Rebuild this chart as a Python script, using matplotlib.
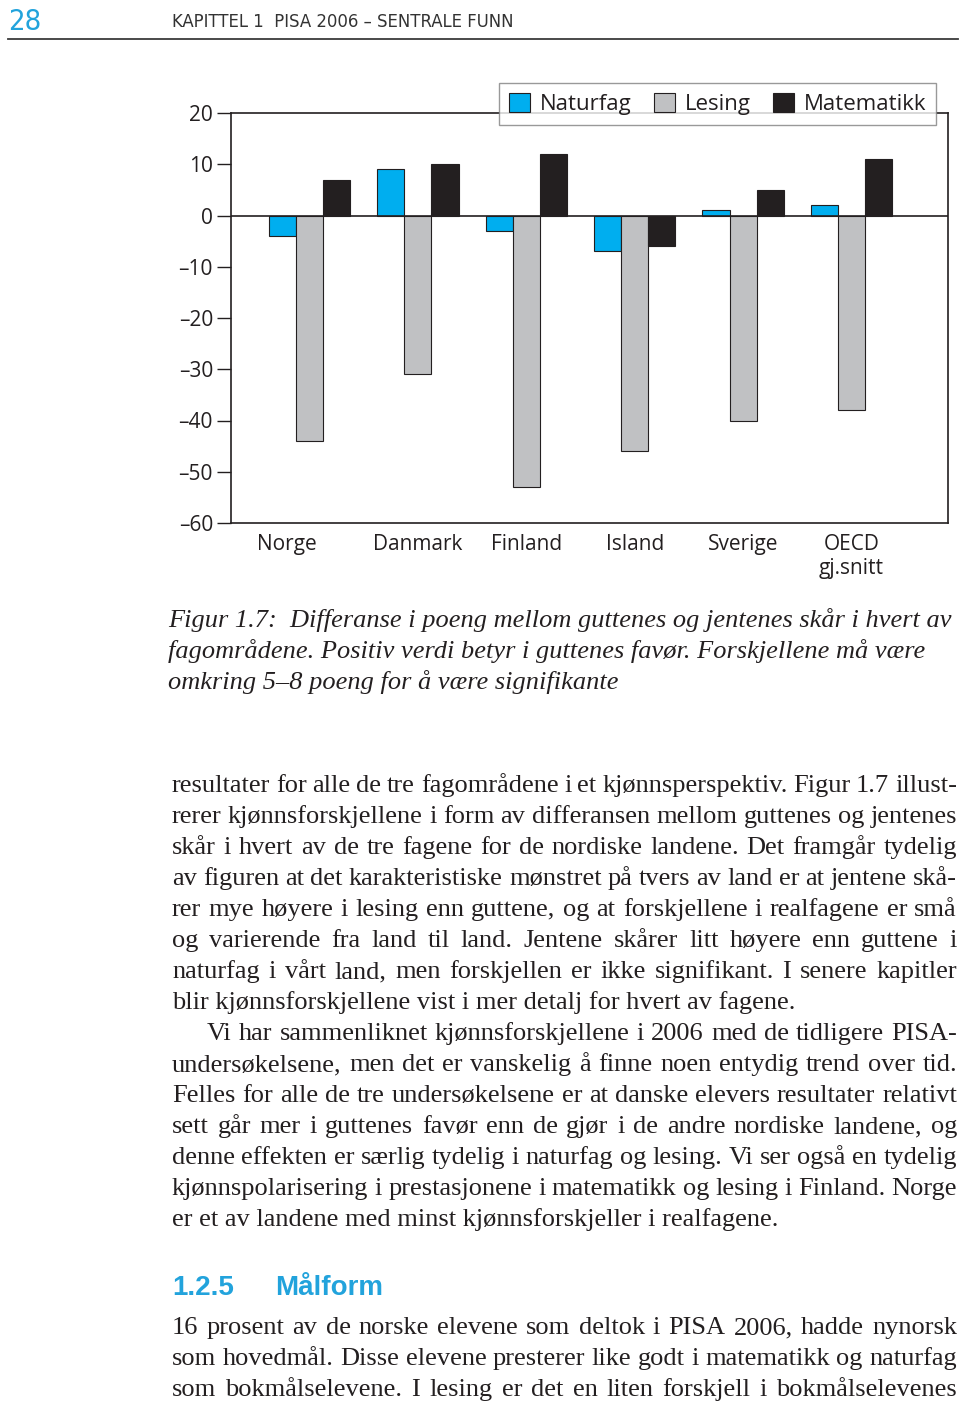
import numpy as np
import matplotlib
matplotlib.use("agg")
import matplotlib.pyplot as plt
import matplotlib.transforms as mtransforms

W, H = 960, 1405

countries = ['Norge', 'Danmark', 'Finland', 'Island', 'Sverige', 'OECD\ngj.snitt']
naturfag = [-4, 9, -3, -7, 1, 2]
lesing = [-44, -31, -53, -46, -40, -38]
matematikk = [7, 10, 12, -6, 5, 11]
yticks = [20, 10, 0, -10, -20, -30, -40, -50, -60]

caption_lines = [
    'Figur 1.7:  Differanse i poeng mellom guttenes og jentenes skår i hvert av',
    'fagområdene. Positiv verdi betyr i guttenes favør. Forskjellene må være',
    'omkring 5\u20138 poeng for å være signifikante',
]

# (text, justified, indent)
body_lines = [
    ('resultater for alle de tre fagområdene i et kjønnsperspektiv. Figur 1.7 illust-', True, False),
    ('rerer kjønnsforskjellene i form av differansen mellom guttenes og jentenes', True, False),
    ('skår i hvert av de tre fagene for de nordiske landene. Det framgår tydelig', True, False),
    ('av figuren at det karakteristiske mønstret på tvers av land er at jentene skå-', True, False),
    ('rer mye høyere i lesing enn guttene, og at forskjellene i realfagene er små', True, False),
    ('og varierende fra land til land. Jentene skårer litt høyere enn guttene i', True, False),
    ('naturfag i vårt land, men forskjellen er ikke signifikant. I senere kapitler', True, False),
    ('blir kjønnsforskjellene vist i mer detalj for hvert av fagene.', False, False),
    ('Vi har sammenliknet kjønnsforskjellene i 2006 med de tidligere PISA-', True, True),
    ('undersøkelsene, men det er vanskelig å finne noen entydig trend over tid.', True, False),
    ('Felles for alle de tre undersøkelsene er at danske elevers resultater relativt', True, False),
    ('sett går mer i guttenes favør enn de gjør i de andre nordiske landene, og', True, False),
    ('denne effekten er særlig tydelig i naturfag og lesing. Vi ser også en tydelig', True, False),
    ('kjønnspolarisering i prestasjonene i matematikk og lesing i Finland. Norge', True, False),
    ('er et av landene med minst kjønnsforskjeller i realfagene.', False, False),
]

last_lines = [
    '16 prosent av de norske elevene som deltok i PISA 2006, hadde nynorsk',
    'som hovedmål. Disse elevene presterer like godt i matematikk og naturfag',
    'som bokmålselevene. I lesing er det en liten forskjell i bokmålselevenes',
]

BLUE = '#00aeef'
GREY = '#c0c1c3'
DARK = '#231f20'
PAGE_BLUE = '#22a3dc'

fig = plt.figure(figsize=(W / 100, H / 100), dpi=100)
renderer = fig.canvas.get_renderer()


def fx(x):
    return x / W


def fy(y):
    return 1 - y / H


def put_line(text, y, x0, x1, justify, **props):
    if not justify:
        fig.text(fx(x0), fy(y), text, va='baseline', ha='left', **props)
        return
    words = text.split(' ')
    objs = [fig.text(0, 0, w, va='baseline', ha='left', **props) for w in words]
    widths = [t.get_window_extent(renderer=renderer).width for t in objs]
    gap = (x1 - x0 - sum(widths)) / (len(words) - 1)
    x = x0
    for t, w in zip(objs, widths):
        t.set_position((fx(x), fy(y)))
        x += w + gap


# page header
fig.text(fx(8), fy(30), '28', family='DejaVu Sans', stretch='condensed', fontsize=21,
         color=PAGE_BLUE, va='baseline')
fig.text(fx(172), fy(27), 'KAPITTEL 1  PISA 2006 \u2013 SENTRALE FUNN', family='DejaVu Sans',
         stretch='condensed', fontsize=13.2, color='#333333', va='baseline')
fig.add_artist(plt.Line2D([fx(8), fx(958)], [fy(39), fy(39)], transform=fig.transFigure,
                          color='#3a3a3a', lw=1.3))

# chart
ax = fig.add_axes([fx(231), fy(523), fx(948) - fx(231), fy(113) - fy(523)])
x = np.arange(len(countries))
w = 0.25
ax.bar(x - w, naturfag, w, color=BLUE, edgecolor=DARK, lw=0.8, label='Naturfag')
ax.bar(x, lesing, w, color=GREY, edgecolor=DARK, lw=0.8, label='Lesing')
ax.bar(x + w, matematikk, w, color=DARK, edgecolor=DARK, lw=0.8, label='Matematikk')
ax.axhline(0, color=DARK, lw=1.2, zorder=3)

ax.set_xlim(-0.724, 5.89)
ax.set_ylim(-60, 20)
ax.set_yticks(yticks)
ax.set_yticklabels([str(v).replace('-', '\u2013') for v in yticks])
ax.set_xticks(x)
ax.set_xticklabels(countries)
ax.tick_params(axis='x', length=0, pad=8, labelsize=15)
ax.tick_params(axis='y', length=10, width=1, color=DARK, pad=3, labelsize=15)
for lab in ax.get_xticklabels() + ax.get_yticklabels():
    lab.set_family('Open Sans')
    lab.set_color(DARK)
first = ax.get_xticklabels()[0]
first.set_transform(first.get_transform() +
                    mtransforms.ScaledTranslation(-0.23, 0, fig.dpi_scale_trans))
for s in ax.spines.values():
    s.set_color(DARK)
    s.set_linewidth(1.2)

leg = ax.legend(loc='upper right', bbox_to_anchor=(fx(936), fy(83)),
                bbox_transform=fig.transFigure, ncol=3, fancybox=False,
                handlelength=0.95, handleheight=0.95, handletextpad=0.43,
                columnspacing=1.0, borderpad=0.45, borderaxespad=0,
                prop={'family': 'Open Sans', 'size': 16})
leg.get_frame().set_edgecolor('#808080')
leg.get_frame().set_linewidth(1)
for t in leg.get_texts():
    t.set_color(DARK)

# caption
for i, line in enumerate(caption_lines):
    fig.text(fx(168), fy(627 + i * 31), line, family='Liberation Serif', style='italic',
             fontsize=19, color=DARK, va='baseline')

# body text
serif = dict(family='Liberation Serif', fontsize=19, color=DARK)
for i, (line, just, indent) in enumerate(body_lines):
    put_line(line, 792 + i * 31, 207 if indent else 172, 957, just, **serif)

fig.text(fx(172), fy(1295), '1.2.5', family='Liberation Sans', weight='bold',
         fontsize=20, color=PAGE_BLUE, va='baseline')
fig.text(fx(275), fy(1295), 'Målform', family='Liberation Sans', weight='bold',
         fontsize=20, color=PAGE_BLUE, va='baseline')

for i, line in enumerate(last_lines):
    put_line(line, 1334 + i * 31, 172, 957, True, **serif)

fig.savefig('out.png', dpi=100)
